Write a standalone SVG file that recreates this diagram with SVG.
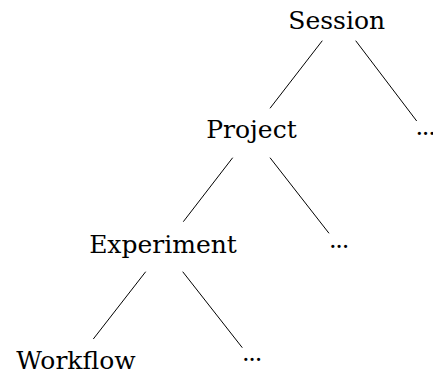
<svg xmlns="http://www.w3.org/2000/svg" width="433" height="374" viewBox="0 0 433 374">
<style>
.lbl{font-family:"DejaVu Serif","Liberation Serif",serif;font-size:25px;fill:#000;text-anchor:middle}
.dots{font-family:"DejaVu Serif","Liberation Serif",serif;font-size:24px;fill:#000;letter-spacing:-1.3px}
.edge{stroke:#000;stroke-width:1;fill:none}
</style>
<rect width="433" height="374" fill="#fff"/>
<g id="connectors">
<line class="edge" x1="322.3" y1="40.7" x2="270" y2="108.3"/>
<line class="edge" x1="355.7" y1="40.7" x2="416.7" y2="121"/>
<line class="edge" x1="232.7" y1="157.7" x2="183.3" y2="221.7"/>
<line class="edge" x1="270" y1="157.7" x2="329" y2="233.3"/>
<line class="edge" x1="145.7" y1="271.7" x2="93.3" y2="339"/>
<line class="edge" x1="182.7" y1="271.7" x2="242.3" y2="347.7"/>
</g>
<g id="session"><text class="lbl" x="336.7" y="28.5">Session</text></g>
<g id="project"><text class="lbl" x="251.5" y="137.5">Project</text></g>
<g id="more1"><text class="dots" x="415.5" y="134.5">...</text></g>
<g id="experiment"><text class="lbl" x="163" y="252.5">Experiment</text></g>
<g id="more2"><text class="dots" x="329" y="248">...</text></g>
<g id="workflow"><text class="lbl" x="76" y="368.5">Workflow</text></g>
<g id="more3"><text class="dots" x="242" y="361">...</text></g>
</svg>
